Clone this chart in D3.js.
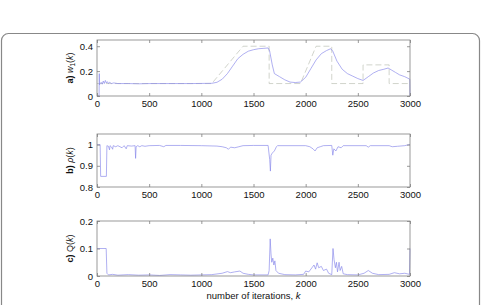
<!DOCTYPE html>
<html lang="en">
<head>
<meta charset="utf-8">
<title>w1, rho, Q vs iterations</title>
<script src="https://d3js.org/d3.v7.min.js"></script>
<style>
	body { margin: 0; background: #fff; }
	text { font-family: "Liberation Sans", Arial, sans-serif; }
</style>
</head>
<body>
<div id="chart"></div>
<script>
// x ticks shared by every panel
let xTicks = [0, 500, 1000, 1500, 2000, 2500, 3000];

// a) reference weight (dashed) and estimated weight w1(k)
let w1Ref = [[0,0.1],[1100,0.1],[1400,0.4],[1650,0.4],[1650,0.1],[1950,0.1],[2100,0.4],[2250,0.4],[2250,0.1],[2550,0.1],[2550,0.25],[2800,0.25],[2800,0.1],[3000,0.1]];
let w1Est = [[0,0],[20,0],[22,0.18],[24,0.09],[30,0.1],[40,0.11],[50,0.095],[60,0.12],[70,0.1],[80,0.125],[90,0.105],[100,0.115],[110,0.1],[120,0.11],[140,0.1],[160,0.105],[200,0.1],[300,0.1],[400,0.098],[500,0.1],[700,0.1],[900,0.1],[1100,0.102],[1150,0.11],[1200,0.135],[1250,0.18],[1300,0.24],[1350,0.3],[1400,0.335],[1450,0.36],[1500,0.372],[1550,0.38],[1600,0.383],[1640,0.386],[1655,0.36],[1680,0.25],[1700,0.18],[1750,0.155],[1800,0.13],[1850,0.112],[1900,0.108],[1950,0.112],[2000,0.15],[2050,0.22],[2100,0.29],[2150,0.34],[2200,0.365],[2240,0.38],[2260,0.36],[2300,0.28],[2350,0.215],[2400,0.18],[2450,0.16],[2500,0.14],[2550,0.125],[2600,0.155],[2650,0.185],[2700,0.205],[2750,0.215],[2790,0.225],[2820,0.21],[2860,0.19],[2900,0.17],[2950,0.155],[2998,0.135],[3000,0]];
let w1Ticks = [0, 0.2, 0.4];

// b) rho(k)
let rho = [[0,1],[30,1],[35,0.85],[90,0.85],[95,0.995],[110,0.992],[120,0.975],[125,0.995],[140,0.988],[150,0.978],[155,0.995],[180,0.99],[200,0.995],[240,0.985],[260,0.995],[280,0.98],[290,0.995],[330,0.993],[365,0.995],[370,0.935],[375,0.99],[390,0.995],[410,0.99],[430,0.995],[460,0.992],[500,0.995],[600,0.996],[640,0.99],[660,0.996],[800,0.996],[1000,0.995],[1150,0.993],[1200,0.99],[1240,0.985],[1260,0.978],[1280,0.988],[1320,0.985],[1360,0.99],[1400,0.995],[1500,0.996],[1640,0.996],[1655,0.93],[1662,0.875],[1668,0.95],[1680,0.96],[1700,0.97],[1720,0.99],[1730,0.995],[2000,0.995],[2040,0.99],[2070,0.98],[2090,0.97],[2110,0.985],[2140,0.99],[2170,0.995],[2250,0.996],[2260,0.95],[2270,0.98],[2290,0.97],[2310,0.99],[2340,0.985],[2360,0.995],[2580,0.995],[2600,0.988],[2620,0.995],[2800,0.995],[2830,0.99],[2880,0.992],[2950,0.995],[2990,1],[3000,1]];
let rhoTicks = [0.8, 0.9, 1];

// c) Q(k)
let qVals = [[0,0.1],[88,0.1],[95,0.01],[110,0.004],[150,0.006],[200,0.003],[300,0.005],[400,0.003],[500,0.004],[600,0.002],[700,0.005],[800,0.004],[900,0.003],[1000,0.004],[1100,0.005],[1200,0.01],[1250,0.016],[1280,0.012],[1320,0.015],[1370,0.018],[1400,0.01],[1450,0.006],[1500,0.004],[1640,0.004],[1650,0.02],[1660,0.135],[1668,0.08],[1675,0.05],[1685,0.065],[1695,0.04],[1705,0.055],[1715,0.02],[1740,0.01],[1800,0.005],[1900,0.004],[1980,0.006],[2000,0.018],[2030,0.015],[2060,0.03],[2080,0.04],[2095,0.025],[2110,0.048],[2125,0.03],[2150,0.035],[2170,0.02],[2200,0.025],[2220,0.01],[2250,0.005],[2262,0.1],[2272,0.06],[2285,0.03],[2295,0.05],[2305,0.015],[2320,0.05],[2330,0.02],[2345,0.035],[2360,0.008],[2400,0.005],[2500,0.004],[2560,0.01],[2600,0.02],[2640,0.01],[2700,0.005],[2800,0.006],[2850,0.012],[2900,0.008],[2950,0.01],[2995,0.006],[3000,0.1]];
let qTicks = [0, 0.1, 0.2];

let width = 481, height = 305;
let svg = d3.select("#chart").append("svg")
	.attr("width", width).attr("height", height);

// rounded frame around the figure
svg.append("rect")
	.attr("x", 1.5).attr("y", 33.5)
	.attr("width", 478).attr("height", 310)
	.attr("rx", 7)
	.attr("fill", "none").attr("stroke", "#888").attr("stroke-width", 1.2);

let x = d3.scaleLinear().domain([0, 3000]).range([97, 410]);

function drawPanel(top, bottom, domain, yTicks, series, label) {
	let y = d3.scaleLinear().domain(domain).range([bottom, top]);
	let g = svg.append("g");
	let line = d3.line().x(d => x(d[0])).y(d => y(d[1]));

	// lines first, box on top
	series.forEach(s => {
		g.append("path").datum(s.data)
			.attr("fill", "none")
			.attr("stroke", s.color)
			.attr("stroke-width", 0.65)
			.attr("stroke-dasharray", s.dash || null)
			.attr("d", line);
	});

	// box
	g.append("rect")
		.attr("x", x(0)).attr("y", top)
		.attr("width", x(3000) - x(0)).attr("height", bottom - top)
		.attr("fill", "none").attr("stroke", "#808080").attr("stroke-width", 0.8);

	// bottom + left axes with inward ticks
	g.append("g").attr("transform", `translate(0,${bottom})`)
		.call(d3.axisBottom(x).tickValues(xTicks).tickFormat(d3.format("d"))
			.tickSizeInner(-3).tickSizeOuter(0).tickPadding(4));
	g.append("g").attr("transform", `translate(${x(0)},0)`)
		.call(d3.axisLeft(y).tickValues(yTicks).tickFormat(d3.format("~g"))
			.tickSizeInner(-3).tickSizeOuter(0).tickPadding(4));
	// mirrored ticks top and right
	g.append("g").attr("transform", `translate(0,${top})`)
		.call(d3.axisTop(x).tickValues(xTicks).tickSizeInner(-3).tickSizeOuter(0).tickFormat(""));
	g.append("g").attr("transform", `translate(${x(3000)},0)`)
		.call(d3.axisRight(y).tickValues(yTicks).tickSizeInner(-3).tickSizeOuter(0).tickFormat(""));
	g.selectAll(".domain").remove();
	g.selectAll(".tick line").attr("stroke", "#808080").attr("stroke-width", 0.8);
	g.selectAll(".tick text").attr("font-size", 9.5).attr("fill", "#111")
		.attr("font-family", "'Liberation Sans', Arial, sans-serif");

	// rotated y label
	let t = g.append("text")
		.attr("transform", `translate(73,${(top + bottom) / 2}) rotate(-90)`)
		.attr("text-anchor", "middle")
		.attr("font-size", 9).attr("fill", "#111");
	label(t);
}

drawPanel(40, 96, [0, 0.45], w1Ticks,
	[{data: w1Ref, color: "#b8bcb0", dash: "6,3"}, {data: w1Est, color: "#8585ea"}],
	t => {
		t.append("tspan").attr("font-weight", "bold").text("a) ");
		t.append("tspan").attr("font-style", "italic").text("w");
		t.append("tspan").attr("font-size", 6.5).attr("dy", 2).text("1");
		t.append("tspan").attr("dy", -2).text("(");
		t.append("tspan").attr("font-style", "italic").text("k");
		t.append("tspan").text(")");
	});

drawPanel(134, 187, [0.8, 1.05], rhoTicks,
	[{data: rho, color: "#8585ea"}],
	t => {
		t.append("tspan").attr("font-weight", "bold").text("b) ");
		t.append("tspan").attr("font-style", "italic").text("ρ");
		t.append("tspan").text("(");
		t.append("tspan").attr("font-style", "italic").text("k");
		t.append("tspan").text(")");
	});

drawPanel(221, 276, [0, 0.2], qTicks,
	[{data: qVals, color: "#8585ea"}],
	t => {
		t.append("tspan").attr("font-weight", "bold").text("c) ");
		t.append("tspan").text("Q(");
		t.append("tspan").attr("font-style", "italic").text("k");
		t.append("tspan").text(")");
	});

// x axis label
let xl = svg.append("text")
	.attr("x", (x(0) + x(3000)) / 2).attr("y", 299)
	.attr("text-anchor", "middle")
	.attr("font-size", 9.5).attr("fill", "#111");
xl.append("tspan").text("number of iterations, ");
xl.append("tspan").attr("font-style", "italic").text("k");
</script>
</body>
</html>
